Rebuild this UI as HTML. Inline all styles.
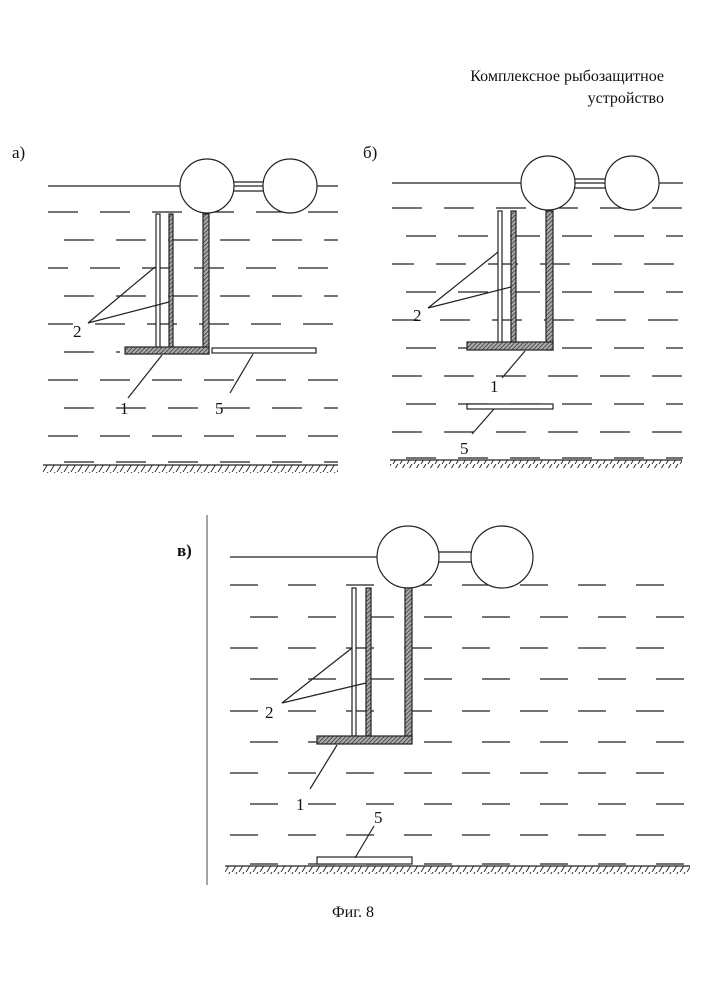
<!DOCTYPE html>
<html><head><meta charset="utf-8"><style>
html,body{margin:0;padding:0;background:#fff;}
svg{display:block}
text{font-family:"Liberation Serif",serif;fill:#111}
</style></head><body>
<svg width="707" height="1000" viewBox="0 0 707 1000">
<defs>
<pattern id="h" width="3" height="3" patternUnits="userSpaceOnUse" patternTransform="rotate(45)">
<rect width="3" height="3" fill="#aaa"/><line x1="0" y1="0" x2="0" y2="3" stroke="#222" stroke-width="1.3"/>
</pattern>
<pattern id="g" width="7" height="8" patternUnits="userSpaceOnUse">
<line x1="6" y1="0" x2="1" y2="8" stroke="#222" stroke-width="0.9"/>
</pattern>
</defs>
<text x="664" y="81" font-size="16" text-anchor="end">Комплексное рыбозащитное</text>
<text x="664" y="103" font-size="16" text-anchor="end">устройство</text>
<text x="12" y="158" font-size="17">а)</text>
<text x="363" y="158" font-size="17">б)</text>
<text x="177" y="556" font-size="17" font-weight="bold">в)</text>
<text x="353" y="917" font-size="16" text-anchor="middle">Фиг. 8</text>

<g stroke="#222" stroke-width="1.2" fill="none">
<!-- Panel a -->
<line x1="48" y1="186" x2="338" y2="186"/>
<g stroke-dasharray="30 22">
<line x1="48" y1="212" x2="338" y2="212" stroke-dashoffset="0"/>
<line x1="64" y1="240" x2="338" y2="240"/>
<line x1="48" y1="268" x2="338" y2="268" stroke-dashoffset="10"/>
<line x1="64" y1="296" x2="338" y2="296"/>
<line x1="48" y1="324" x2="338" y2="324" stroke-dashoffset="5"/>
<line x1="64" y1="352" x2="120" y2="352"/>
<line x1="48" y1="380" x2="338" y2="380"/>
<line x1="64" y1="408" x2="338" y2="408"/>
<line x1="48" y1="436" x2="338" y2="436"/>
<line x1="64" y1="462" x2="338" y2="462"/>
</g>
<line x1="43" y1="465" x2="338" y2="465"/>
<rect x="43" y="465" width="295" height="8" fill="url(#g)" stroke="none"/>
<circle cx="207" cy="186" r="27" fill="#fff"/>
<circle cx="290" cy="186" r="27" fill="#fff"/>
<line x1="234" y1="182" x2="263" y2="182"/><line x1="234" y1="191" x2="263" y2="191"/>
<rect x="156" y="214" width="4" height="134" fill="#fff"/>
<rect x="169" y="214" width="4" height="134" fill="url(#h)"/>
<rect x="203" y="214" width="6" height="140" fill="url(#h)"/>
<rect x="125" y="347" width="84" height="7" fill="url(#h)"/>
<rect x="212" y="348" width="104" height="5" fill="#fff"/>
<line x1="155" y1="267" x2="88" y2="323"/><line x1="169" y1="302" x2="88" y2="323"/>
<line x1="162" y1="355" x2="128" y2="398"/>
<line x1="253" y1="354" x2="230" y2="393"/>

<!-- Panel b -->
<line x1="392" y1="183" x2="683" y2="183"/>
<g stroke-dasharray="30 22">
<line x1="392" y1="208" x2="683" y2="208"/>
<line x1="406" y1="236" x2="683" y2="236"/>
<line x1="392" y1="264" x2="683" y2="264" stroke-dashoffset="8"/>
<line x1="406" y1="292" x2="683" y2="292"/>
<line x1="392" y1="320" x2="683" y2="320" stroke-dashoffset="4"/>
<line x1="406" y1="348" x2="683" y2="348"/>
<line x1="392" y1="376" x2="683" y2="376"/>
<line x1="406" y1="404" x2="683" y2="404"/>
<line x1="392" y1="432" x2="683" y2="432"/>
<line x1="406" y1="458" x2="683" y2="458"/>
</g>
<line x1="390" y1="460" x2="682" y2="460"/>
<rect x="390" y="460" width="292" height="8" fill="url(#g)" stroke="none"/>
<circle cx="548" cy="183" r="27" fill="#fff"/>
<circle cx="632" cy="183" r="27" fill="#fff"/>
<line x1="575" y1="179" x2="605" y2="179"/><line x1="575" y1="188" x2="605" y2="188"/>
<rect x="498" y="211" width="4" height="132" fill="#fff"/>
<rect x="511" y="211" width="5" height="132" fill="url(#h)"/>
<rect x="546" y="211" width="7" height="139" fill="url(#h)"/>
<rect x="467" y="342" width="86" height="8" fill="url(#h)"/>
<rect x="467" y="404" width="86" height="5" fill="#fff"/>
<line x1="498" y1="252" x2="428" y2="308"/><line x1="511" y1="287" x2="428" y2="308"/>
<line x1="525" y1="351" x2="502" y2="378"/>
<line x1="494" y1="409" x2="472" y2="434"/>

<!-- Panel c -->
<line x1="207" y1="515" x2="207" y2="885" stroke="#666"/>
<line x1="230" y1="557" x2="377" y2="557"/>
<g stroke-dasharray="28 30">
<line x1="230" y1="585" x2="690" y2="585"/>
<line x1="250" y1="617" x2="690" y2="617"/>
<line x1="230" y1="648" x2="690" y2="648"/>
<line x1="250" y1="679" x2="690" y2="679"/>
<line x1="230" y1="711" x2="690" y2="711"/>
<line x1="250" y1="742" x2="690" y2="742"/>
<line x1="230" y1="773" x2="690" y2="773"/>
<line x1="250" y1="804" x2="690" y2="804"/>
<line x1="230" y1="835" x2="690" y2="835"/>
<line x1="250" y1="864" x2="690" y2="864"/>
</g>
<line x1="225" y1="866" x2="690" y2="866"/>
<rect x="225" y="866" width="465" height="8" fill="url(#g)" stroke="none"/>
<circle cx="408" cy="557" r="31" fill="#fff"/>
<circle cx="502" cy="557" r="31" fill="#fff"/>
<line x1="439" y1="552" x2="471" y2="552"/><line x1="439" y1="562" x2="471" y2="562"/>
<rect x="352" y="588" width="4" height="148" fill="#fff"/>
<rect x="366" y="588" width="5" height="148" fill="url(#h)"/>
<rect x="405" y="588" width="7" height="153" fill="url(#h)"/>
<rect x="317" y="736" width="95" height="8" fill="url(#h)"/>
<rect x="317" y="857" width="95" height="7" fill="#fff"/>
<line x1="352" y1="648" x2="282" y2="703"/><line x1="366" y1="683" x2="282" y2="703"/>
<line x1="337" y1="745" x2="310" y2="789"/>
<line x1="355" y1="858" x2="374" y2="826"/>
</g>
<text x="73" y="337" font-size="17">2</text>
<text x="120" y="414" font-size="17">1</text>
<text x="215" y="414" font-size="17">5</text>
<text x="413" y="321" font-size="17">2</text>
<text x="490" y="392" font-size="17">1</text>
<text x="460" y="454" font-size="17">5</text>
<text x="265" y="718" font-size="17">2</text>
<text x="296" y="810" font-size="17">1</text>
<text x="374" y="823" font-size="17">5</text>
</svg>
</body></html>
